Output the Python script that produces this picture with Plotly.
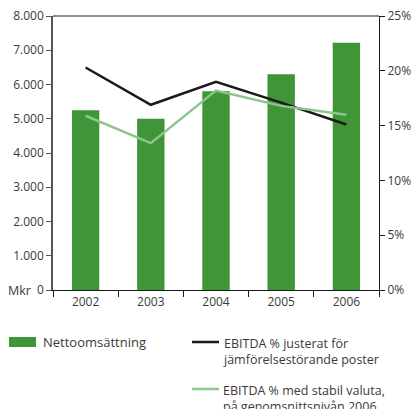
import plotly.graph_objects as go

years = ["2002", "2003", "2004", "2005", "2006"]
net_sales = [5250, 5000, 5800, 6300, 7220]
ebitda_adj = [20.3, 16.9, 19.0, 17.1, 15.1]
ebitda_fx = [15.9, 13.4, 18.2, 16.8, 16.0]
left_ticks = [0, 1000, 2000, 3000, 4000, 5000, 6000, 7000, 8000]
left_labels = ["0", "1.000", "2.000", "3.000", "4.000", "5.000", "6.000", "7.000", "8.000"]
right_ticks = [0, 5, 10, 15, 20, 25]
right_labels = ["0%", "5%", "10%", "15%", "20%", "25%"]

FONT = "Open Sans"
TXT = "#3a3a3a"
BAR = "#3f9537"
LGREEN = "#8cc68a"

fig = go.Figure()
fig.add_trace(go.Bar(x=years, y=net_sales, name="Nettoomsättning",
                     marker=dict(color=BAR, line=dict(width=0)), width=0.42,
                     showlegend=False))
fig.add_trace(go.Scatter(x=years, y=ebitda_adj, yaxis="y2", mode="lines",
                         name="EBITDA % justerat för jämförelsestörande poster",
                         line=dict(color="#1a1a1a", width=2.5), showlegend=False))
fig.add_trace(go.Scatter(x=years, y=ebitda_fx, yaxis="y2", mode="lines",
                         name="EBITDA % med stabil valuta, på genomsnittsnivån 2006",
                         line=dict(color=LGREEN, width=2.5), showlegend=False))

fig.update_layout(
    width=417, height=409,
    margin=dict(l=53, r=38, t=16, b=119),
    paper_bgcolor="white", plot_bgcolor="white",
    font=dict(family=FONT, size=12, color=TXT),
    xaxis=dict(type="category", range=[-0.5, 4.5], showline=True, linecolor="#1a1a1a",
               linewidth=1.2, ticks="outside", tickson="boundaries", ticklen=6,
               tickcolor="#1a1a1a", showgrid=False, zeroline=False,
               tickfont=dict(size=12, color=TXT)),
    yaxis=dict(range=[0, 8000], tickmode="array", tickvals=left_ticks, ticktext=left_labels,
               showline=True, automargin=False,
               linecolor="#555555", linewidth=1.5, ticks="outside", ticklen=5,
               tickcolor="#555555", showgrid=False, zeroline=False,
               tickfont=dict(size=12, color=TXT)),
    yaxis2=dict(range=[0, 25], tickmode="array", tickvals=right_ticks, ticktext=right_labels,
                overlaying="y", automargin=False,
                side="right", showline=True, linecolor="#1a1a1a", linewidth=1.2,
                ticks="outside", ticklen=5, tickcolor="#1a1a1a", showgrid=False,
                zeroline=False, tickfont=dict(size=12, color=TXT)),
    bargap=0.5,
)

# top frame line
fig.add_shape(type="line", xref="paper", yref="paper", x0=0, x1=1, y0=1, y1=1,
              line=dict(color="#1a1a1a", width=1.2))

# manual legend (pixel -> paper conversion)
pw, ph = 417 - 53 - 38, 409 - 16 - 119
def px(x):
    return (x - 53) / pw
def py(y):
    return (409 - 119 - y) / ph

fig.add_annotation(text="Mkr", xref="paper", yref="paper", x=px(33), y=0,
                   xanchor="right", yanchor="middle", showarrow=False,
                   font=dict(size=12.5, color=TXT))

LF = 12.5
fig.add_shape(type="rect", xref="paper", yref="paper", x0=px(9), x1=px(36),
              y0=py(347), y1=py(337), fillcolor=BAR, line=dict(width=0))
fig.add_annotation(text="Nettoomsättning", xref="paper", yref="paper", x=px(41), y=py(342),
                   xanchor="left", yanchor="middle", showarrow=False,
                   font=dict(size=13, color=TXT))
fig.add_shape(type="line", xref="paper", yref="paper", x0=px(192), x1=px(219),
              y0=py(342), y1=py(342), line=dict(color="#1a1a1a", width=2.5))
fig.add_annotation(text="EBITDA % justerat för<br>jämförelsestörande poster", xref="paper",
                   yref="paper", x=px(221), y=py(333), xanchor="left", yanchor="top",
                   align="left", showarrow=False, font=dict(size=LF, color=TXT))
fig.add_shape(type="line", xref="paper", yref="paper", x0=px(192), x1=px(219),
              y0=py(389), y1=py(389), line=dict(color=LGREEN, width=2.5))
fig.add_annotation(text="EBITDA % med stabil valuta,<br>på genomsnittsnivån 2006", xref="paper",
                   yref="paper", x=px(221), y=py(380), xanchor="left", yanchor="top",
                   align="left", showarrow=False, font=dict(size=LF, color=TXT))

fig.write_html("out.html", config={"displayModeBar": False},
               post_script="document.body.style.margin='0';")
